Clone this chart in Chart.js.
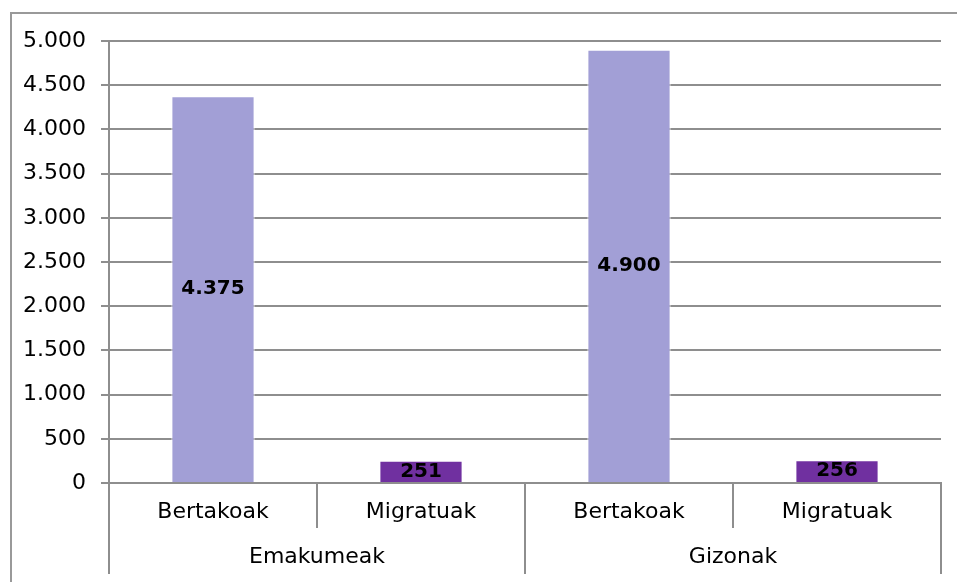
<!DOCTYPE html>
<html>
<head>
<meta charset="utf-8">
<script src="https://cdn.jsdelivr.net/npm/chart.js@4"></script>
<style>
  html, body { margin: 0; padding: 0; background: #fff; overflow: hidden; }
  #frame { position: absolute; left: 10px; top: 12px; width: 980px; height: 600px;
           border-left: 2px solid #999; border-top: 2px solid #999; }
  #chart { position: absolute; left: 0; top: 0; }
</style>
</head>
<body>
<div id="frame"></div>
<canvas id="chart" width="957" height="582"></canvas>
<script>
const categories = ['Bertakoak', 'Migratuak', 'Bertakoak', 'Migratuak'];
const groups = ['Emakumeak', 'Gizonak'];
const values = [4375, 251, 4900, 256];
const barColors = ['#a29fd6', '#7030a0', '#a29fd6', '#7030a0'];

const FONT = '"DejaVu Sans", sans-serif';
const GRID = '#8e8e8e';

// 4375 -> "4.375"
const fmt = v => String(Math.round(v)).replace(/\B(?=(\d{3})+(?!\d))/g, '.');

const valueLabels = {
  id: 'valueLabels',
  afterDatasetsDraw(chart) {
    const ctx = chart.ctx;
    const meta = chart.getDatasetMeta(0);
    ctx.save();
    ctx.font = 'bold 20px ' + FONT;
    ctx.fillStyle = '#000';
    ctx.textAlign = 'center';
    ctx.textBaseline = 'middle';
    meta.data.forEach((bar, i) => {
      const p = bar.getProps(['x', 'y', 'base'], true);
      ctx.fillText(fmt(values[i]), p.x, (p.y + p.base) / 2);
    });
    ctx.restore();
  },
};

new Chart(document.getElementById('chart'), {
  type: 'bar',
  data: {
    labels: categories,
    datasets: [{
      data: values,
      backgroundColor: barColors,
      borderColor: '#ffffff',
      borderWidth: 1,
      categoryPercentage: 0.8,
      barPercentage: 0.5,
    }],
  },
  options: {
    responsive: false,
    animation: false,
    layout: { padding: { left: 0, top: 41, right: 16, bottom: 8 } },
    plugins: { legend: { display: false }, tooltip: { enabled: false } },
    scales: {
      y: {
        min: 0, max: 5000,
        ticks: { stepSize: 500, callback: fmt, color: '#000', padding: 15, font: { family: FONT, size: 22 } },
        grid: { color: GRID, lineWidth: 2, tickLength: 8 },
        border: { color: GRID, width: 2 },
        afterFit: s => { s.width = 109; },
      },
      x: {
        weight: 0,
        offset: true,
        ticks: { color: '#000', autoSkip: false, maxRotation: 0, padding: -29, font: { family: FONT, size: 22 } },
        grid: { offset: true, drawOnChartArea: false, color: GRID, lineWidth: 2, tickLength: 45 },
        border: { color: GRID, width: 2 },
        afterFit: s => { s.height = 45; },
      },
      x2: {
        type: 'category',
        position: 'bottom',
        weight: 1,
        labels: groups,
        offset: true,
        ticks: { color: '#000', autoSkip: false, maxRotation: 0, padding: -30, font: { family: FONT, size: 22 } },
        grid: { offset: true, drawOnChartArea: false, color: GRID, lineWidth: 2, tickLength: 46 },
        border: { display: false },
        afterFit: s => { s.height = 46; },
      },
    },
  },
  plugins: [valueLabels],
});
</script>
</body>
</html>
